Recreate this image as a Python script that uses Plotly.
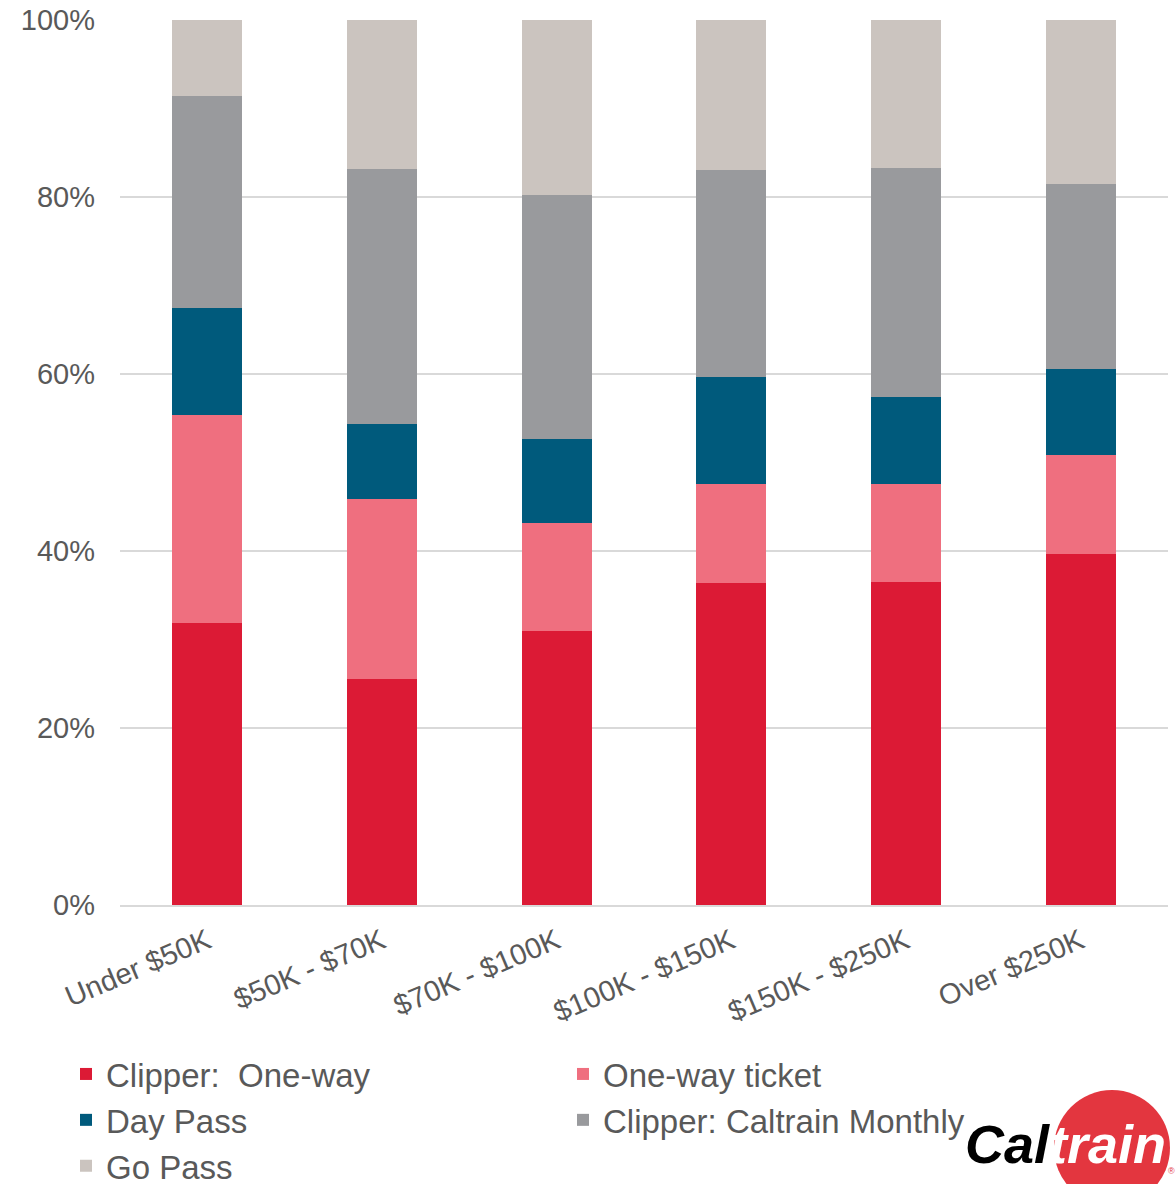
import plotly.graph_objects as go

categories = ["Under $50K", "$50K - $70K", "$70K - $100K", "$100K - $150K", "$150K - $250K", "Over $250K"]
clipper_one_way = [31.9, 25.5, 31.0, 36.4, 36.5, 39.7]
one_way_ticket = [23.5, 20.4, 12.2, 11.2, 11.1, 11.2]
day_pass = [12.1, 8.5, 9.5, 12.1, 9.8, 9.7]
clipper_monthly = [23.9, 28.8, 27.5, 23.4, 25.9, 20.9]
go_pass = [8.6, 16.8, 19.8, 16.9, 16.7, 18.5]

series = [
    ("Clipper:\u00a0 One-way", clipper_one_way, "#DC1A35"),
    ("One-way ticket", one_way_ticket, "#EF6F7F"),
    ("Day Pass", day_pass, "#005A7C"),
    ("Clipper: Caltrain Monthly", clipper_monthly, "#999A9D"),
    ("Go Pass", go_pass, "#CBC4BF"),
]
tick_vals = [0, 20, 40, 60, 80, 100]
tick_text = ["0%", "20%", "40%", "60%", "80%", "100%"]

fig = go.Figure()
for name, vals, color in series:
    fig.add_trace(go.Bar(x=categories, y=vals, name=name, marker=dict(color=color, line=dict(width=0))))

W, H = 1176, 1184
L, R, T, B = 120, 8, 20, 279
pw, ph = W - L - R, H - T - B

def px(x):
    return (x - L) / pw

def py(y):
    return (H - B - y) / ph

fig.update_layout(
    width=W, height=H,
    margin=dict(l=L, r=R, t=T, b=B, autoexpand=False),
    barmode="stack", barnorm="percent", bargap=0.6,
    plot_bgcolor="white", paper_bgcolor="white",
    font=dict(family="Liberation Sans, Arial", color="#595959"),
    xaxis=dict(tickangle=-23, tickfont=dict(size=29, color="#595959"), showline=True,
               linecolor="#D9D9D9", linewidth=2, ticks="", range=[-0.5, 5.5], automargin=False,
               ticklabelstandoff=6),
    yaxis=dict(range=[0, 100], tickvals=tick_vals, ticktext=tick_text, showgrid=True,
               gridcolor="#D9D9D9", gridwidth=2, zeroline=False, automargin=False,
               tickfont=dict(size=29, color="#595959"), ticklabelstandoff=24),
    legend=dict(orientation="h", x=px(66), y=py(1046), xanchor="left", yanchor="top",
                entrywidth=452, entrywidthmode="pixels", traceorder="normal",
                bgcolor="rgba(0,0,0,0)",
                font=dict(size=33, family="Liberation Sans, Arial", color="#595959"),
                itemclick=False),
    showlegend=True,
    shapes=[dict(type="circle", xref="paper", yref="paper", x0=px(1054), x1=px(1170),
                 y0=py(1206), y1=py(1090), fillcolor="#E3363F", line=dict(width=0), layer="above")],
    annotations=[
        dict(xref="paper", yref="paper", x=px(963), y=py(1144), xanchor="left", yanchor="middle",
             text="<b><i>Cal<span style='color:white'>train</span></i></b>", showarrow=False,
             font=dict(size=54, family="Liberation Sans, Arial", color="black")),
        dict(xref="paper", yref="paper", x=px(1171), y=py(1171), xanchor="center", yanchor="middle",
             text="®", showarrow=False, font=dict(size=9, color="#E3363F")),
    ],
)

fig.write_html("out.html", config={"displayModeBar": False},
               post_script="document.body.style.margin='0';")
